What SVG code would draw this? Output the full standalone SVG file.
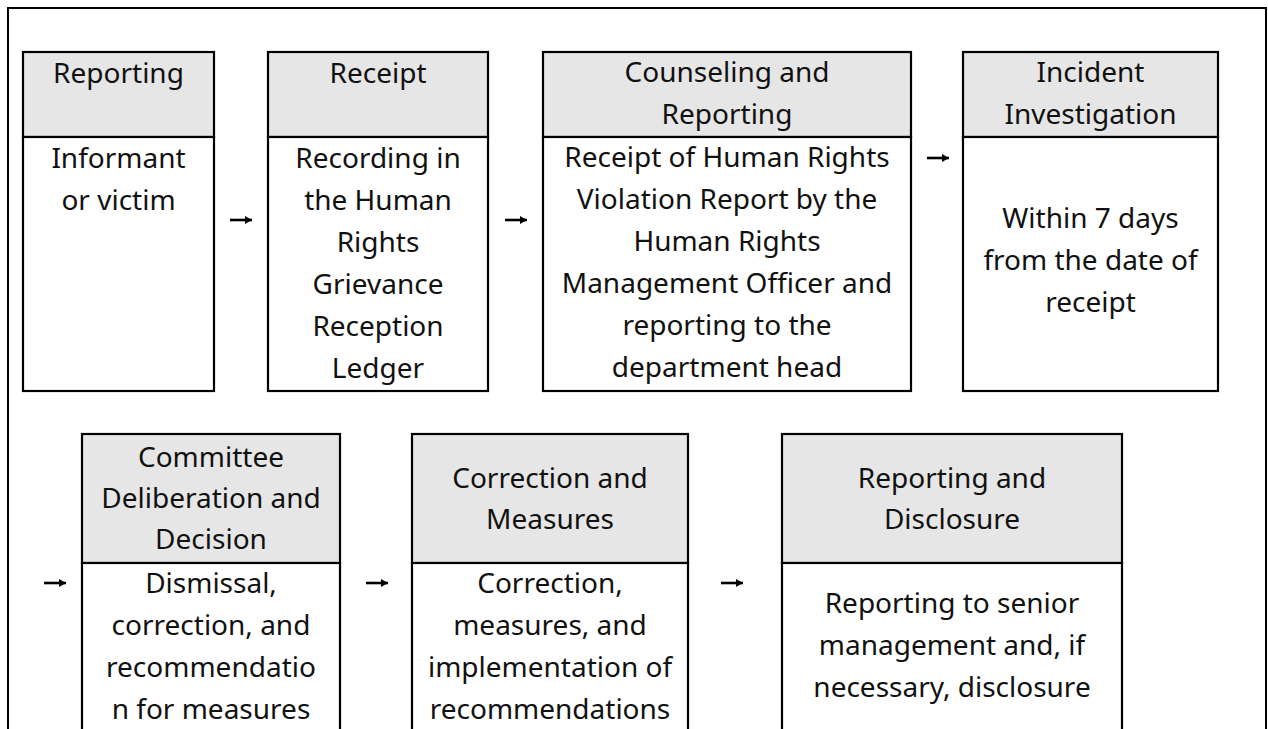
<svg xmlns="http://www.w3.org/2000/svg" width="1268" height="729" viewBox="0 0 1268 729">
<style>
.frame{fill:none;stroke:#000;stroke-width:2}
.box{fill:#fff;stroke:#000;stroke-width:2.2}
.hdr{fill:#e6e6e6;stroke:#000;stroke-width:2.2}
text{font-family:"Noto Sans","DejaVu Sans",sans-serif;font-size:28px;fill:#111;text-anchor:middle}
.conn{stroke:#000;stroke-width:2.6;fill:none}
</style>
<defs>
<marker id="ah" markerUnits="userSpaceOnUse" markerWidth="10" markerHeight="10" refX="8" refY="5" orient="auto">
<path d="M1,1 L8,5 L1,9 Z" fill="#000"/>
</marker>
</defs>
<rect width="1268" height="729" fill="#fff"/>
<path class="frame" d="M8,729 V8 H1266 V729"/>

<g id="n1">
<rect class="hdr" x="23" y="52" width="191" height="85"/>
<rect class="box" x="23" y="137" width="191" height="254"/>
<text x="118.5" y="83">Reporting</text>
<text x="118.5" y="168">Informant</text>
<text x="118.5" y="210">or victim</text>
</g>

<g id="n2">
<rect class="hdr" x="268" y="52" width="220" height="85"/>
<rect class="box" x="268" y="137" width="220" height="254"/>
<text x="378" y="83">Receipt</text>
<text x="378" y="168">Recording in</text>
<text x="378" y="210">the Human</text>
<text x="378" y="252">Rights</text>
<text x="378" y="294">Grievance</text>
<text x="378" y="336">Reception</text>
<text x="378" y="378">Ledger</text>
</g>

<g id="n3">
<rect class="hdr" x="543" y="52" width="368" height="85"/>
<rect class="box" x="543" y="137" width="368" height="254"/>
<text x="727" y="82">Counseling and</text>
<text x="727" y="124">Reporting</text>
<text x="727" y="167">Receipt of Human Rights</text>
<text x="727" y="209">Violation Report by the</text>
<text x="727" y="251">Human Rights</text>
<text x="727" y="293">Management Officer and</text>
<text x="727" y="335">reporting to the</text>
<text x="727" y="377">department head</text>
</g>

<g id="n4">
<rect class="hdr" x="963" y="52" width="255" height="85"/>
<rect class="box" x="963" y="137" width="255" height="254"/>
<text x="1090.5" y="82">Incident</text>
<text x="1090.5" y="124">Investigation</text>
<text x="1090.5" y="228">Within 7 days</text>
<text x="1090.5" y="270">from the date of</text>
<text x="1090.5" y="312">receipt</text>
</g>

<g id="n5">
<rect class="hdr" x="82" y="434" width="258" height="129"/>
<rect class="box" x="82" y="563" width="258" height="180"/>
<text x="211" y="467">Committee</text>
<text x="211" y="508">Deliberation and</text>
<text x="211" y="549">Decision</text>
<text x="211" y="593">Dismissal,</text>
<text x="211" y="635">correction, and</text>
<text x="211" y="677">recommendatio</text>
<text x="211" y="719">n for measures</text>
</g>

<g id="n6">
<rect class="hdr" x="412" y="434" width="276" height="129"/>
<rect class="box" x="412" y="563" width="276" height="180"/>
<text x="550" y="488">Correction and</text>
<text x="550" y="529">Measures</text>
<text x="550" y="593">Correction,</text>
<text x="550" y="635">measures, and</text>
<text x="550" y="677">implementation of</text>
<text x="550" y="719">recommendations</text>
</g>

<g id="n7">
<rect class="hdr" x="782" y="434" width="340" height="129"/>
<rect class="box" x="782" y="563" width="340" height="180"/>
<text x="952" y="488">Reporting and</text>
<text x="952" y="529">Disclosure</text>
<text x="952" y="613">Reporting to senior</text>
<text x="952" y="655">management and, if</text>
<text x="952" y="697">necessary, disclosure</text>
</g>

<g id="connectors">
<line class="conn" x1="230" y1="220" x2="252" y2="220" marker-end="url(#ah)"/>
<line class="conn" x1="505" y1="220" x2="527" y2="220" marker-end="url(#ah)"/>
<line class="conn" x1="927" y1="158" x2="949" y2="158" marker-end="url(#ah)"/>
<line class="conn" x1="44" y1="583" x2="66" y2="583" marker-end="url(#ah)"/>
<line class="conn" x1="366" y1="583" x2="388" y2="583" marker-end="url(#ah)"/>
<line class="conn" x1="721" y1="583" x2="743" y2="583" marker-end="url(#ah)"/>
</g>
</svg>
